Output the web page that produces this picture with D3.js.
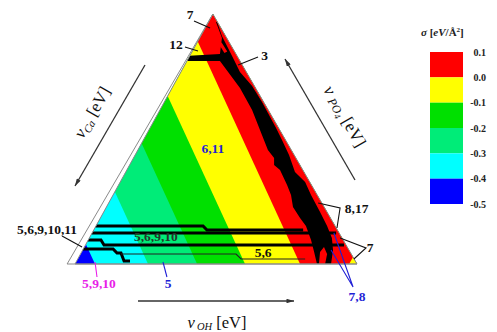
<!DOCTYPE html>
<html>
<head>
<meta charset="utf-8">
<script src="https://cdn.jsdelivr.net/npm/d3@7"></script>
<style>
  body { margin: 0; background: #fff; }
  text { font-family: "Liberation Serif", "DejaVu Serif", serif; }
</style>
</head>
<body>
<svg id="chart" width="497" height="332"></svg>
<script>
// sigma levels [eV/A^2], legend top to bottom, and the colour of each band between them
const sigmaLevels = [0.1, 0.0, -0.1, -0.2, -0.3, -0.4, -0.5];
const bandColors = ["#ff0000", "#ffff00", "#00e000", "#00ec78", "#00ffff", "#0000ff"];

// plot units: u runs along the OH edge (0..1), h is the height (0 base .. 1 apex)
const apexU = 0.489;

// contour lines inside the triangle: where each level cuts the OH edge (u) and the Ca edge (h)
const contourLevels = [-0.4, -0.3, -0.2, -0.1, 0.0];
const contourBaseU = [0.071, 0.259, 0.433, 0.603, 0.798];
const contourEdgeH = [0.079, 0.289, 0.483, 0.672, 0.890];

// small yellow pocket in the OH/PO4 corner
const cornerPocket = [[0.972, 0], [1.0, 0], [0.986, 0.028]];

// black stability band running along the PO4 edge
const blackBand = [
  [0.500, 0.968], [0.521, 0.904], [0.514, 0.840], [0.390, 0.832], [0.390, 0.812],
  [0.514, 0.812], [0.585, 0.704], [0.628, 0.616], [0.663, 0.516], [0.684, 0.456],
  [0.706, 0.424], [0.706, 0.396], [0.727, 0.376], [0.752, 0.316], [0.766, 0.276],
  [0.773, 0.228], [0.798, 0.184], [0.819, 0.152], [0.837, 0.096], [0.848, 0.048],
  [0.858, 0.000], [0.908, 0.000], [0.915, 0.056], [0.911, 0.104], [0.894, 0.152],
  [0.869, 0.208], [0.837, 0.276], [0.816, 0.328], [0.780, 0.368], [0.759, 0.436],
  [0.734, 0.496], [0.713, 0.544], [0.663, 0.648], [0.628, 0.712], [0.585, 0.768],
  [0.557, 0.832], [0.521, 0.912], [0.504, 0.968]
];
// red holes left inside the black band
const redHoles = [
  [[0.510, 0.880], [0.520, 0.886], [0.540, 0.850], [0.530, 0.844]],
  [[0.865, 0.000], [0.869, 0.048], [0.883, 0.068], [0.894, 0.040], [0.887, 0.000]]
];

// stepped phase boundaries across the lower part
const thickLines = [
  [[0.040, 0.152], [0.454, 0.152], [0.468, 0.136], [0.809, 0.136]],
  [[0.030, 0.124], [0.926, 0.124]],
  [[0.020, 0.096], [0.092, 0.096], [0.103, 0.076], [0.954, 0.076]],
  [[0.010, 0.060], [0.135, 0.060], [0.149, 0.044], [0.163, 0.044], [0.174, 0.012], [0.195, 0.012]]
];
const thinLines = [
  [[0.163, 0.040], [0.571, 0.040], [0.589, 0.020], [0.816, 0.020]]
];

// region labels (baseline position in plot units) with their leader lines
const notes = [
  { t: "7", at: [0.408, 0.980], c: "k", lead: [[[0.422, 0.972], [0.479, 0.944]]] },
  { t: "12", at: [0.358, 0.860], c: "k", lead: [[[0.390, 0.868], [0.436, 0.852]]] },
  { t: "3", at: [0.672, 0.816], c: "k", lead: [[[0.649, 0.828], [0.578, 0.796]]] },
  { t: "6,11", at: [0.489, 0.444], c: "b" },
  { t: "8,17", at: [0.957, 0.204], c: "k", start: true, lead: [[[0.862, 0.244], [0.940, 0.224], [0.929, 0.144]]] },
  { t: "7", at: [1.035, 0.048], c: "k", start: true, lead: [[[0.940, 0.104], [1.032, 0.064], [0.989, 0.020]]] },
  { t: "7,8", at: [1.000, -0.148], c: "b", lead: [[[0.918, 0.124], [0.986, -0.092], [0.908, 0.056]]] },
  { t: "5,6,9,10,11", at: [-0.099, 0.120], c: "k", lead: [[[-0.046, 0.112], [0.025, 0.068]]] },
  { t: "5,6,9,10", at: [0.287, 0.092], c: "d" },
  { t: "5,6", at: [0.667, 0.028], c: "k" },
  { t: "5,9,10", at: [0.085, -0.096], c: "m", lead: [[[0.071, 0.008], [0.078, -0.052]]] },
  { t: "5", at: [0.330, -0.096], c: "b", lead: [[[0.312, 0.008], [0.326, -0.052]]] }
];
const noteColor = { k: "#111", b: "#1f1fd6", m: "#e81ee8", d: "#25362a" };

const svg = d3.select("#chart");
svg.append("rect").attr("width", 497).attr("height", 332).attr("fill", "#fff");

const x = d3.scaleLinear().domain([0, 1]).range([75, 357]);
const y = d3.scaleLinear().domain([0, 1]).range([264, 14]);
const line = d3.line().x(d => x(d[0])).y(d => y(d[1]));
const tri = [[0, 0], [1, 0], [apexU, 1]];

const defs = svg.append("defs");
defs.append("clipPath").attr("id", "tri")
  .append("path").attr("d", line(tri) + "Z");
defs.append("marker").attr("id", "arr")
  .attr("viewBox", "0 0 10 6").attr("refX", 10).attr("refY", 3)
  .attr("markerWidth", 8).attr("markerHeight", 4.5)
  .attr("markerUnits", "userSpaceOnUse").attr("orient", "auto")
  .append("path").attr("d", "M0,0L10,3L0,6Z").attr("fill", "#333");

const plot = svg.append("g").attr("clip-path", "url(#tri)");

// colour bands: lowest band fills the triangle, each level paints its upper side
plot.append("path").attr("d", line(tri) + "Z").attr("fill", bandColors[bandColors.length - 1]);
contourLevels.forEach((lev, i) => {
  const u0 = contourBaseU[i], hE = contourEdgeH[i], uE = apexU * hE;
  const at = h => [u0 + (uE - u0) * h / hE, h];
  const poly = [at(-0.2), at(1.2), [2, 1.2], [2, -0.2]];
  plot.append("path").attr("d", line(poly) + "Z")
    .attr("fill", bandColors[sigmaLevels.indexOf(lev) - 1]);
});
plot.append("path").attr("d", line(cornerPocket) + "Z").attr("fill", bandColors[1]);

plot.append("path").attr("d", line(blackBand) + "Z").attr("fill", "#000");
plot.selectAll(".hole").data(redHoles).join("path")
  .attr("d", d => line(d) + "Z").attr("fill", bandColors[0]);

plot.selectAll(".thick").data(thickLines).join("path")
  .attr("d", line).attr("fill", "none").attr("stroke", "#000")
  .attr("stroke-width", 3).attr("stroke-linejoin", "miter");
plot.selectAll(".thin").data(thinLines).join("path")
  .attr("d", line).attr("fill", "none").attr("stroke", "#222")
  .attr("stroke-width", 1.2);

// triangle frame, with the extra Ca axis line just outside the left edge
const frame = svg.append("g").attr("fill", "none").attr("stroke", "#8a8a8a").attr("stroke-width", 1);
frame.append("path").attr("d", line(tri) + "Z");
frame.append("path").attr("d", line([[apexU, 1], [-0.028, 0], [1, 0]]));

// labels and leaders
const ng = svg.append("g");
notes.forEach(n => {
  (n.lead || []).forEach(l => {
    ng.append("path").attr("d", line(l)).attr("fill", "none")
      .attr("stroke", noteColor[n.c]).attr("stroke-width", 1.1);
  });
  ng.append("text")
    .attr("x", x(n.at[0])).attr("y", y(n.at[1]))
    .attr("text-anchor", n.start ? "start" : "middle")
    .attr("font-size", 13.5).attr("font-weight", "bold")
    .attr("fill", noteColor[n.c])
    .text(n.t);
});

// axis arrows
const axes = svg.append("g").attr("stroke", "#333").attr("stroke-width", 1.3);
axes.append("line").attr("x1", 138).attr("y1", 301).attr("x2", 294).attr("y2", 301).attr("marker-end", "url(#arr)");
axes.append("line").attr("x1", 145).attr("y1", 65).attr("x2", 75).attr("y2", 186).attr("marker-end", "url(#arr)");
axes.append("line").attr("x1", 355).attr("y1", 180).attr("x2", 285).attr("y2", 59).attr("marker-end", "url(#arr)");

// axis titles
const ohT = svg.append("text").attr("x", 217).attr("y", 328).attr("text-anchor", "middle")
  .attr("font-size", 16.5).attr("fill", "#111");
ohT.append("tspan").attr("font-style", "italic").text("ν");
ohT.append("tspan").attr("font-style", "italic").attr("font-size", 10.5).attr("dy", 2).attr("dx", 2).text("OH");
ohT.append("tspan").attr("dy", -2).text(" [eV]");

const caT = svg.append("text").attr("transform", "translate(97,115) rotate(-60)")
  .attr("text-anchor", "middle").attr("font-size", 17).attr("fill", "#111");
caT.append("tspan").attr("font-style", "italic").text("ν");
caT.append("tspan").attr("font-style", "italic").attr("font-size", 11).attr("dy", 3).text("Ca");
caT.append("tspan").attr("dy", -3).text(" [eV]");

const poT = svg.append("text").attr("transform", "translate(340,119) rotate(60)")
  .attr("text-anchor", "middle").attr("font-size", 17).attr("fill", "#111");
poT.append("tspan").attr("font-style", "italic").text("ν ");
poT.append("tspan").attr("font-style", "italic").attr("font-size", 12).attr("dy", 2).text("PO");
poT.append("tspan").attr("font-style", "italic").attr("font-size", 9).attr("dy", 2).text("4");
poT.append("tspan").attr("dy", -4).text(" [eV]");

// legend
const ly = d3.scaleLinear().domain([0.1, -0.5]).range([52, 204]);
const leg = svg.append("g");
leg.selectAll("rect").data(bandColors).join("rect")
  .attr("x", 430).attr("width", 33)
  .attr("y", (d, i) => ly(sigmaLevels[i]))
  .attr("height", (d, i) => ly(sigmaLevels[i + 1]) - ly(sigmaLevels[i]))
  .attr("fill", d => d);
leg.selectAll("text").data(sigmaLevels).join("text")
  .attr("x", 486).attr("y", d => ly(d)).attr("dy", "0.35em")
  .attr("text-anchor", "end").attr("font-size", 10).attr("font-weight", "bold")
  .attr("fill", "#222")
  .text(d => d.toFixed(1));

const lt = svg.append("text").attr("x", 421).attr("y", 36)
  .attr("font-size", 11).attr("font-weight", "bold").attr("fill", "#222");
lt.append("tspan").attr("font-style", "italic").text("σ");
lt.append("tspan").text(" [");
lt.append("tspan").attr("font-style", "italic").text("eV");
lt.append("tspan").text("/Å");
lt.append("tspan").attr("font-size", 7).attr("dy", -4).text("2");
lt.append("tspan").attr("dy", 4).text("]");
</script>
</body>
</html>
